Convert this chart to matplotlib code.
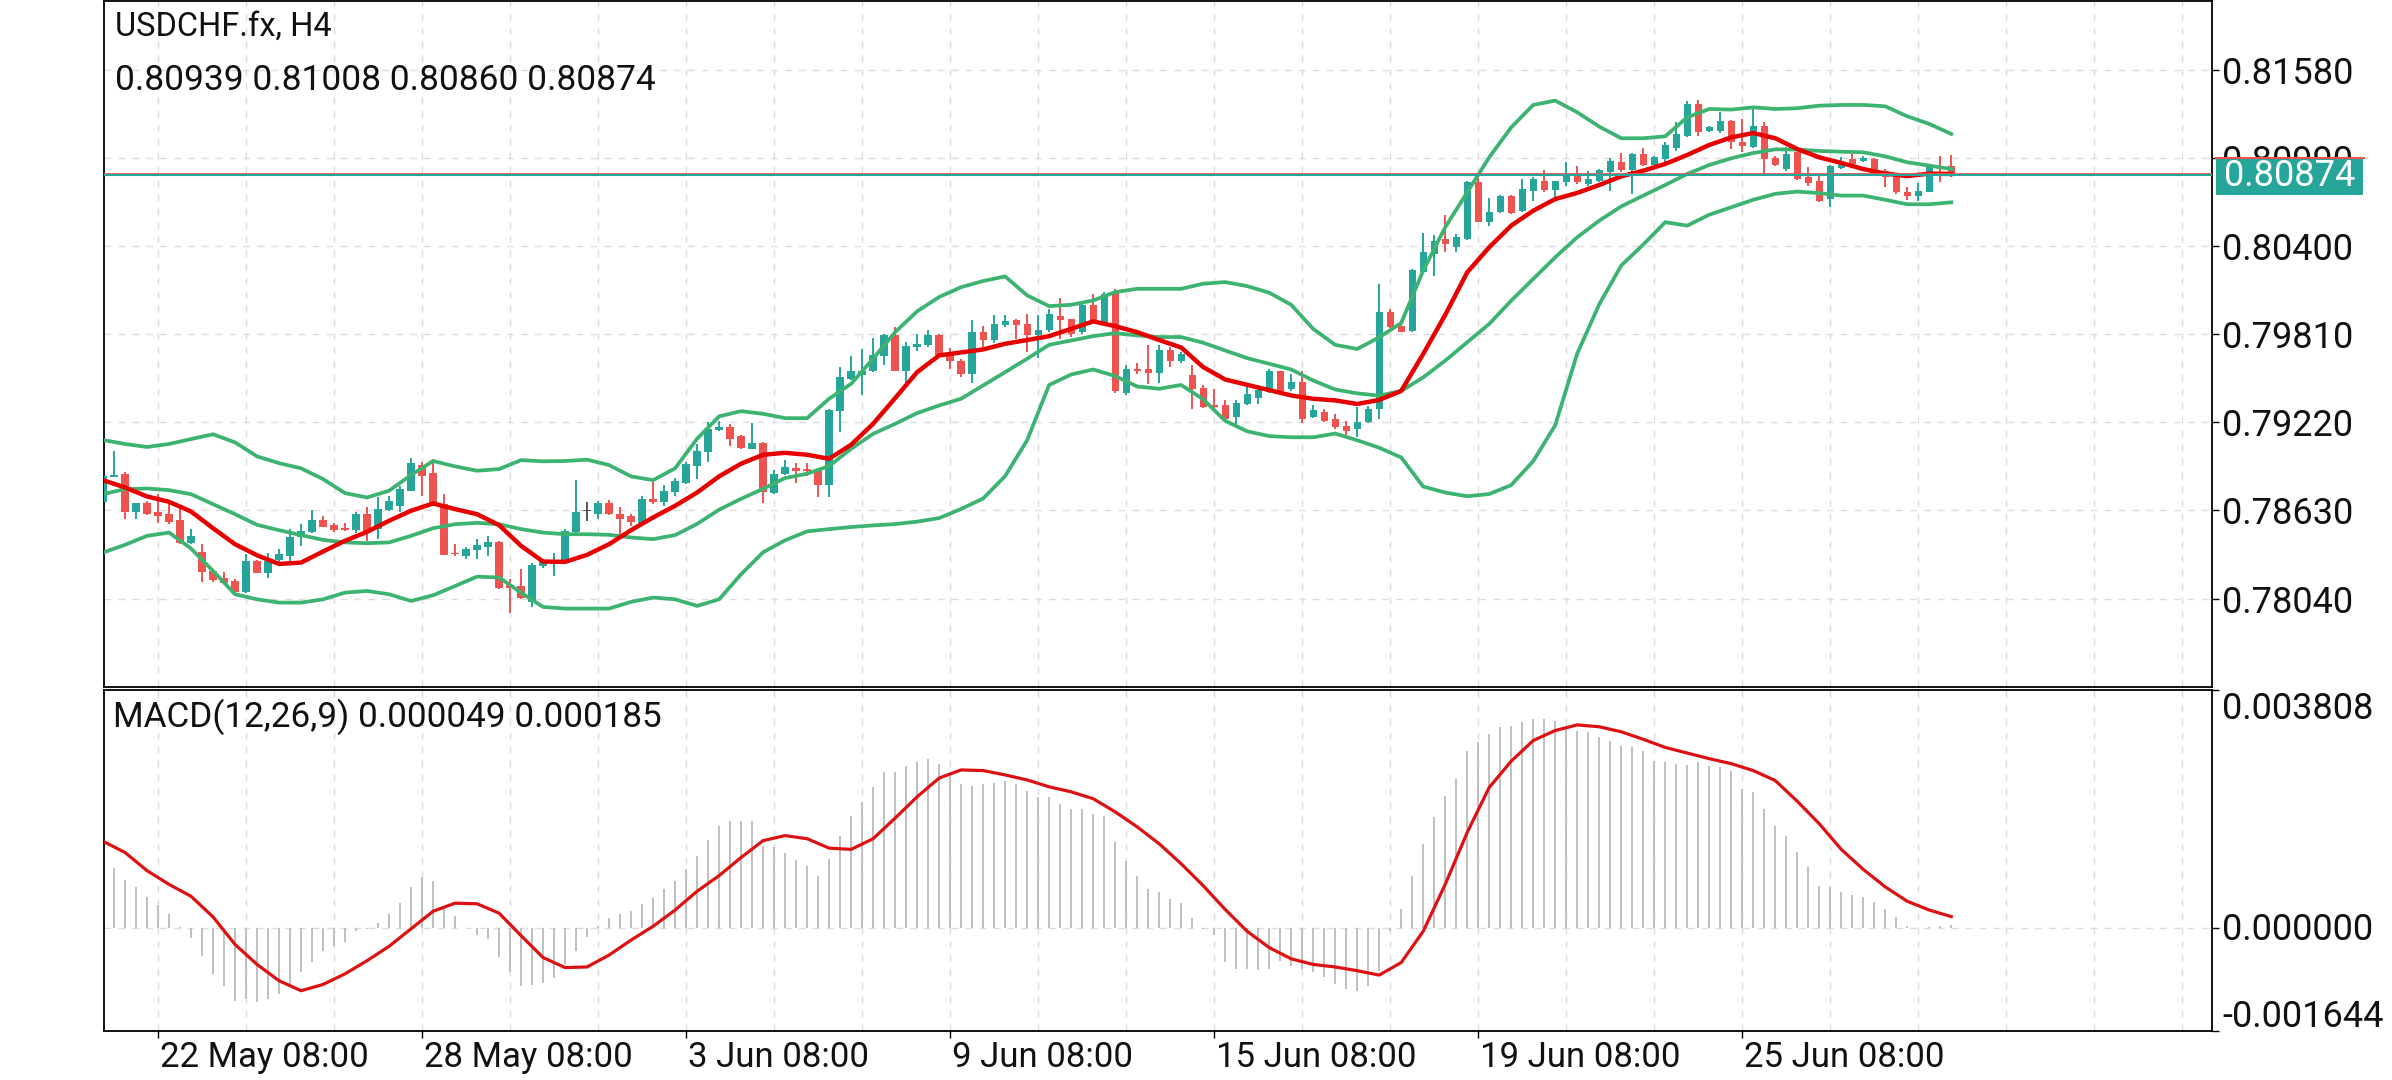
import numpy as np
import matplotlib.pyplot as plt
import matplotlib.transforms as mtransforms
from matplotlib.patches import Rectangle
from matplotlib.lines import Line2D

plt.rcParams['font.family'] = ['Roboto', 'DejaVu Sans']

# ---- H4 candles (bar index 0..168) ----
opens = [
    0.78684, 0.78856, 0.78874, 0.78617, 0.78677, 0.78621, 0.78605, 0.78567, 0.78409, 0.78353,
    0.78226, 0.78176, 0.78158, 0.78087, 0.78292, 0.78214, 0.78297, 0.78326, 0.78453, 0.78487,
    0.78565, 0.78534, 0.78511, 0.78498, 0.78605, 0.78505, 0.78634, 0.78661, 0.78762, 0.78934,
    0.78878, 0.78672, 0.78344, 0.78322, 0.78364, 0.78386, 0.78422, 0.78129, 0.78125, 0.78018,
    0.78259, 0.78270, 0.78292, 0.78487, 0.78628, 0.78605, 0.78679, 0.78605, 0.78594, 0.78549,
    0.78706, 0.78684, 0.78751, 0.78813, 0.78929, 0.79019, 0.79169, 0.79191, 0.79126, 0.79043,
    0.79081, 0.78748, 0.78876, 0.78913, 0.78909, 0.78898, 0.78802, 0.79295, 0.79512, 0.79538,
    0.79561, 0.79663, 0.79806, 0.79567, 0.79724, 0.79735, 0.79806, 0.79668, 0.79634, 0.79545,
    0.79824, 0.79768, 0.79869, 0.79907, 0.79880, 0.79802, 0.79835, 0.79931, 0.79909, 0.79824,
    0.80003, 0.79891, 0.80096, 0.79418, 0.79579, 0.79579, 0.79552, 0.79706, 0.79634, 0.79538,
    0.79449, 0.79333, 0.79333, 0.79255, 0.79340, 0.79382, 0.79422, 0.79561, 0.79440, 0.79489,
    0.79255, 0.79287, 0.79242, 0.79198, 0.79175, 0.79220, 0.79309, 0.79957, 0.79867, 0.79829,
    0.80224, 0.80347, 0.80448, 0.80392, 0.80448, 0.80827, 0.80564, 0.80626, 0.80738, 0.80637,
    0.80771, 0.80838, 0.80778, 0.80827, 0.80883, 0.80816, 0.80838, 0.80898, 0.80965, 0.80912,
    0.81017, 0.80943, 0.80983, 0.81055, 0.81140, 0.81352, 0.81173, 0.81173, 0.81240, 0.81099,
    0.81061, 0.81207, 0.80988, 0.80916, 0.81028, 0.80861, 0.80838, 0.80715, 0.80921, 0.80983,
    0.80972, 0.80983, 0.80905, 0.80876, 0.80765, 0.80733, 0.80765, 0.80930, 0.80939,
]
highs = [
    0.78870, 0.79030, 0.78889, 0.78680, 0.78695, 0.78739, 0.78672, 0.78650, 0.78505, 0.78404,
    0.78230, 0.78219, 0.78169, 0.78337, 0.78295, 0.78348, 0.78371, 0.78505, 0.78538, 0.78632,
    0.78594, 0.78549, 0.78549, 0.78617, 0.78650, 0.78717, 0.78728, 0.78795, 0.78981, 0.78952,
    0.78974, 0.78739, 0.78404, 0.78382, 0.78442, 0.78456, 0.78427, 0.78169, 0.78241, 0.78281,
    0.78304, 0.78348, 0.78505, 0.78833, 0.78684, 0.78695, 0.78701, 0.78650, 0.78605, 0.78728,
    0.78818, 0.78800, 0.78844, 0.78952, 0.79075, 0.79224, 0.79231, 0.79209, 0.79137, 0.79217,
    0.79088, 0.78898, 0.78965, 0.78947, 0.78947, 0.78913, 0.79311, 0.79590, 0.79663, 0.79713,
    0.79784, 0.79813, 0.79858, 0.79757, 0.79813, 0.79835, 0.79813, 0.79717, 0.79646, 0.79902,
    0.79864, 0.79936, 0.79936, 0.79913, 0.79947, 0.79936, 0.79976, 0.80052, 0.79913, 0.80014,
    0.80081, 0.80096, 0.80114, 0.79601, 0.79619, 0.79739, 0.79735, 0.79724, 0.79690, 0.79605,
    0.79467, 0.79440, 0.79367, 0.79367, 0.79456, 0.79467, 0.79579, 0.79567, 0.79545, 0.79561,
    0.79333, 0.79309, 0.79277, 0.79231, 0.79320, 0.79332, 0.80146, 0.79979, 0.79879, 0.80245,
    0.80488, 0.80474, 0.80608, 0.80481, 0.80838, 0.80872, 0.80720, 0.80742, 0.80742, 0.80849,
    0.80861, 0.80912, 0.80838, 0.80961, 0.80934, 0.80905, 0.80916, 0.80988, 0.81023, 0.81023,
    0.81055, 0.81001, 0.81095, 0.81229, 0.81374, 0.81381, 0.81207, 0.81296, 0.81247, 0.81251,
    0.81318, 0.81229, 0.81001, 0.81061, 0.81032, 0.80928, 0.80872, 0.80943, 0.80994, 0.81017,
    0.81001, 0.80988, 0.80916, 0.80883, 0.80794, 0.80823, 0.80943, 0.81001, 0.81008,
]
lows = [
    0.78680, 0.78851, 0.78572, 0.78576, 0.78600, 0.78549, 0.78538, 0.78405, 0.78404, 0.78154,
    0.78154, 0.78143, 0.78080, 0.78080, 0.78210, 0.78176, 0.78286, 0.78292, 0.78393, 0.78476,
    0.78516, 0.78487, 0.78494, 0.78482, 0.78427, 0.78442, 0.78628, 0.78617, 0.78757, 0.78728,
    0.78672, 0.78330, 0.78326, 0.78304, 0.78304, 0.78326, 0.78107, 0.77946, 0.78036, 0.77984,
    0.78248, 0.78192, 0.78286, 0.78482, 0.78561, 0.78576, 0.78601, 0.78471, 0.78527, 0.78527,
    0.78672, 0.78661, 0.78728, 0.78806, 0.78840, 0.78952, 0.79165, 0.79064, 0.79039, 0.79039,
    0.78681, 0.78742, 0.78869, 0.78815, 0.78864, 0.78719, 0.78719, 0.79155, 0.79501, 0.79400,
    0.79556, 0.79601, 0.79561, 0.79467, 0.79695, 0.79724, 0.79657, 0.79574, 0.79523, 0.79483,
    0.79724, 0.79753, 0.79858, 0.79780, 0.79690, 0.79650, 0.79824, 0.79780, 0.79791, 0.79813,
    0.79891, 0.79880, 0.79416, 0.79400, 0.79545, 0.79474, 0.79483, 0.79590, 0.79617, 0.79311,
    0.79315, 0.79288, 0.79233, 0.79204, 0.79333, 0.79344, 0.79416, 0.79422, 0.79427, 0.79217,
    0.79248, 0.79220, 0.79177, 0.79120, 0.79120, 0.79216, 0.79242, 0.79849, 0.79823, 0.79825,
    0.80213, 0.80202, 0.80358, 0.80363, 0.80443, 0.80559, 0.80537, 0.80622, 0.80617, 0.80631,
    0.80704, 0.80765, 0.80727, 0.80805, 0.80816, 0.80800, 0.80832, 0.80771, 0.80898, 0.80749,
    0.80934, 0.80939, 0.80965, 0.81039, 0.81128, 0.81140, 0.81166, 0.81157, 0.81050, 0.81028,
    0.81055, 0.80883, 0.80934, 0.80905, 0.80845, 0.80805, 0.80698, 0.80660, 0.80916, 0.80943,
    0.80961, 0.80883, 0.80794, 0.80749, 0.80711, 0.80704, 0.80760, 0.80827, 0.80860,
]
closes = [
    0.78862, 0.78866, 0.78617, 0.78677, 0.78605, 0.78594, 0.78554, 0.78409, 0.78460, 0.78219,
    0.78163, 0.78147, 0.78087, 0.78292, 0.78214, 0.78292, 0.78337, 0.78449, 0.78494, 0.78565,
    0.78520, 0.78500, 0.78498, 0.78605, 0.78494, 0.78643, 0.78695, 0.78773, 0.78947, 0.78862,
    0.78684, 0.78333, 0.78337, 0.78371, 0.78400, 0.78422, 0.78114, 0.78114, 0.78047, 0.78263,
    0.78292, 0.78292, 0.78494, 0.78623, 0.78628, 0.78679, 0.78605, 0.78576, 0.78554, 0.78706,
    0.78684, 0.78757, 0.78824, 0.78941, 0.79030, 0.79175, 0.79191, 0.79110, 0.79047, 0.79083,
    0.78753, 0.78876, 0.78920, 0.78891, 0.78891, 0.78802, 0.79304, 0.79523, 0.79567, 0.79567,
    0.79668, 0.79802, 0.79567, 0.79728, 0.79746, 0.79802, 0.79668, 0.79628, 0.79545, 0.79824,
    0.79768, 0.79880, 0.79898, 0.79869, 0.79802, 0.79840, 0.79947, 0.79902, 0.79813, 0.80003,
    0.79902, 0.80081, 0.79427, 0.79579, 0.79561, 0.79552, 0.79706, 0.79634, 0.79679, 0.79440,
    0.79322, 0.79322, 0.79244, 0.79351, 0.79411, 0.79434, 0.79561, 0.79427, 0.79489, 0.79244,
    0.79300, 0.79231, 0.79187, 0.79164, 0.79220, 0.79309, 0.79957, 0.79856, 0.79827, 0.80242,
    0.80358, 0.80436, 0.80414, 0.80459, 0.80827, 0.80564, 0.80631, 0.80738, 0.80622, 0.80782,
    0.80849, 0.80778, 0.80834, 0.80883, 0.80827, 0.80849, 0.80912, 0.80972, 0.80912, 0.81017,
    0.80943, 0.80994, 0.81077, 0.81151, 0.81352, 0.81162, 0.81195, 0.81240, 0.81095, 0.81073,
    0.81207, 0.80983, 0.80943, 0.81017, 0.80849, 0.80823, 0.80704, 0.80934, 0.80950, 0.80950,
    0.80988, 0.80894, 0.80861, 0.80760, 0.80738, 0.80771, 0.80934, 0.80918, 0.80874,
]

# ---- indicator lines, read every 2nd bar (0, 2, ..., 168) ----
knot_step = 2
bb_upper = [
    0.79102, 0.79075, 0.79055, 0.79075, 0.79108, 0.79140, 0.79086, 0.78992, 0.78947, 0.78912,
    0.78840, 0.78746, 0.78717, 0.78762, 0.78867, 0.78961, 0.78925, 0.78896, 0.78907, 0.78967,
    0.78959, 0.78961, 0.78970, 0.78934, 0.78858, 0.78833, 0.78912, 0.79110, 0.79260, 0.79295,
    0.79277, 0.79248, 0.79248, 0.79378, 0.79478, 0.79646, 0.79824, 0.79963, 0.80059, 0.80125,
    0.80166, 0.80197, 0.80070, 0.79998, 0.80007, 0.80036, 0.80092, 0.80114, 0.80114, 0.80114,
    0.80148, 0.80159, 0.80132, 0.80088, 0.80007, 0.79846, 0.79739, 0.79711, 0.79789, 0.79885,
    0.80236, 0.80526, 0.80760, 0.80994, 0.81195, 0.81345, 0.81374, 0.81296, 0.81200, 0.81122,
    0.81122, 0.81135, 0.81262, 0.81318, 0.81314, 0.81329, 0.81318, 0.81323, 0.81340, 0.81345,
    0.81345, 0.81336, 0.81269, 0.81218, 0.81151,
]
bb_middle = [
    0.78739, 0.78773, 0.78777, 0.78766, 0.78739, 0.78672, 0.78605, 0.78534, 0.78498, 0.78465,
    0.78433, 0.78416, 0.78411, 0.78416, 0.78460, 0.78511, 0.78538, 0.78547, 0.78538, 0.78505,
    0.78482, 0.78471, 0.78471, 0.78467, 0.78449, 0.78438, 0.78465, 0.78540, 0.78635, 0.78708,
    0.78775, 0.78847, 0.78876, 0.78927, 0.79043, 0.79143, 0.79210, 0.79282, 0.79333, 0.79378,
    0.79467, 0.79556, 0.79646, 0.79739, 0.79768, 0.79797, 0.79817, 0.79802, 0.79791, 0.79791,
    0.79753, 0.79701, 0.79650, 0.79612, 0.79574, 0.79500, 0.79440, 0.79414, 0.79399, 0.79430,
    0.79521, 0.79633, 0.79756, 0.79879, 0.80035, 0.80180, 0.80325, 0.80459, 0.80570, 0.80666,
    0.80738, 0.80809, 0.80883, 0.80943, 0.80988, 0.81023, 0.81048, 0.81046, 0.81037, 0.81032,
    0.81028, 0.81001, 0.80961, 0.80939, 0.80916,
]
bb_lower = [
    0.78348, 0.78400, 0.78460, 0.78482, 0.78375, 0.78225, 0.78069, 0.78035, 0.78013, 0.78013,
    0.78035, 0.78080, 0.78091, 0.78069, 0.78024, 0.78062, 0.78124, 0.78187, 0.78181, 0.78080,
    0.77984, 0.77973, 0.77973, 0.77973, 0.78018, 0.78047, 0.78035, 0.77991, 0.78035, 0.78203,
    0.78350, 0.78430, 0.78490, 0.78505, 0.78519, 0.78530, 0.78539, 0.78555, 0.78579, 0.78640,
    0.78710, 0.78860, 0.79100, 0.79470, 0.79540, 0.79574, 0.79530, 0.79460, 0.79445, 0.79470,
    0.79375, 0.79230, 0.79160, 0.79128, 0.79120, 0.79120, 0.79145, 0.79100, 0.79050, 0.78985,
    0.78790, 0.78750, 0.78725, 0.78740, 0.78800, 0.78960, 0.79200, 0.79680, 0.80010, 0.80270,
    0.80410, 0.80560, 0.80537, 0.80610, 0.80660, 0.80710, 0.80750, 0.80765, 0.80755, 0.80738,
    0.80738, 0.80710, 0.80680, 0.80680, 0.80693,
]
fast_ma = [
    0.78833, 0.78784, 0.78724, 0.78688, 0.78623, 0.78511, 0.78404, 0.78330, 0.78272, 0.78281,
    0.78355, 0.78427, 0.78487, 0.78561, 0.78628, 0.78677, 0.78639, 0.78605, 0.78532, 0.78393,
    0.78288, 0.78286, 0.78333, 0.78404, 0.78498, 0.78583, 0.78661, 0.78750, 0.78858, 0.78943,
    0.79003, 0.79016, 0.79003, 0.78976, 0.79070, 0.79210, 0.79382, 0.79556, 0.79668, 0.79688,
    0.79708, 0.79746, 0.79771, 0.79797, 0.79846, 0.79896, 0.79864, 0.79824, 0.79771, 0.79721,
    0.79590, 0.79507, 0.79471, 0.79436, 0.79400, 0.79378, 0.79367, 0.79343, 0.79370, 0.79430,
    0.79678, 0.79939, 0.80224, 0.80392, 0.80537, 0.80637, 0.80715, 0.80756, 0.80809, 0.80867,
    0.80905, 0.80950, 0.81010, 0.81077, 0.81128, 0.81157, 0.81122, 0.81050, 0.80994, 0.80957,
    0.80916, 0.80885, 0.80869, 0.80885, 0.80883,
]

# ---- MACD(12,26,9) ----
macd_hist = [
    0.00105, 0.00096, 0.00077, 0.00066, 0.00050, 0.00037, 0.00023, 0.00002, -0.00016, -0.00045,
    -0.00073, -0.00093, -0.00116, -0.00114, -0.00118, -0.00113, -0.00105, -0.00092, -0.00070, -0.00054,
    -0.00037, -0.00029, -0.00022, -0.00004, -0.00002, 0.00008, 0.00023, 0.00041, 0.00066, 0.00082,
    0.00075, 0.00032, 0.00019, 0.00000, -0.00011, -0.00018, -0.00046, -0.00070, -0.00092, -0.00091,
    -0.00088, -0.00080, -0.00057, -0.00037, -0.00014, 0.00004, 0.00016, 0.00023, 0.00027, 0.00039,
    0.00048, 0.00062, 0.00075, 0.00094, 0.00115, 0.00141, 0.00164, 0.00171, 0.00171, 0.00171,
    0.00132, 0.00129, 0.00120, 0.00109, 0.00100, 0.00084, 0.00111, 0.00148, 0.00180, 0.00202,
    0.00226, 0.00249, 0.00249, 0.00260, 0.00265, 0.00271, 0.00263, 0.00244, 0.00231, 0.00228,
    0.00231, 0.00232, 0.00235, 0.00231, 0.00220, 0.00210, 0.00210, 0.00199, 0.00191, 0.00191,
    0.00183, 0.00180, 0.00138, 0.00108, 0.00084, 0.00063, 0.00058, 0.00047, 0.00041, 0.00016,
    -0.00002, -0.00011, -0.00054, -0.00065, -0.00066, -0.00067, -0.00066, -0.00052, -0.00060, -0.00065,
    -0.00070, -0.00078, -0.00089, -0.00097, -0.00100, -0.00092, -0.00068, -0.00004, 0.00031, 0.00084,
    0.00135, 0.00178, 0.00211, 0.00238, 0.00283, 0.00297, 0.00311, 0.00321, 0.00324, 0.00329,
    0.00335, 0.00334, 0.00331, 0.00324, 0.00316, 0.00313, 0.00305, 0.00300, 0.00292, 0.00289,
    0.00284, 0.00268, 0.00265, 0.00263, 0.00261, 0.00265, 0.00260, 0.00257, 0.00252, 0.00223,
    0.00218, 0.00191, 0.00164, 0.00148, 0.00122, 0.00098, 0.00068, 0.00066, 0.00058, 0.00053,
    0.00050, 0.00042, 0.00031, 0.00018, 0.00004, 0.00000, 0.00002, 0.00003, 0.000049,
]
macd_signal = [
    0.00139, 0.00121, 0.00092, 0.00070, 0.00051, 0.00018, -0.00026, -0.00058, -0.00084, -0.00100,
    -0.00090, -0.00073, -0.00052, -0.00029, -0.00001, 0.00027, 0.00040, 0.00039, 0.00024, -0.00012,
    -0.00047, -0.00063, -0.00062, -0.00043, -0.00019, 0.00003, 0.00029, 0.00059, 0.00084, 0.00113,
    0.00140, 0.00148, 0.00143, 0.00128, 0.00126, 0.00143, 0.00176, 0.00210, 0.00240, 0.00253,
    0.00252, 0.00245, 0.00237, 0.00226, 0.00218, 0.00207, 0.00186, 0.00162, 0.00135, 0.00103,
    0.00068, 0.00030, -0.00005, -0.00031, -0.00049, -0.00058, -0.00062, -0.00068, -0.00075, -0.00055,
    -0.00005, 0.00070, 0.00153, 0.00225, 0.00267, 0.00300, 0.00316, 0.00325, 0.00322, 0.00314,
    0.00302, 0.00289, 0.00280, 0.00271, 0.00263, 0.00252, 0.00236, 0.00203, 0.00167, 0.00126,
    0.00094, 0.00066, 0.00043, 0.00029, 0.000185,
]

price_ticks = [0.78040, 0.78630, 0.79220, 0.79810, 0.80400, 0.80990, 0.81580]
price_range = (0.77448, 0.82041)
macd_range = (-0.001644, 0.003808)
date_ticks = [5, 29, 53, 77, 101, 125, 149]
date_labels = ['22 May 08:00', '28 May 08:00', '3 Jun 08:00', '9 Jun 08:00',
               '15 Jun 08:00', '19 Jun 08:00', '25 Jun 08:00']
grid_bars = list(range(5, 190, 8))
last_price = 0.80874

UP = '#26a69a'
DOWN = '#ef5350'
BAND = '#3cb371'
GRID = '#dddddd'
INK = '#111111'

W, H = 2392, 1080
fig = plt.figure(figsize=(W / 100, H / 100), dpi=100)
ax = fig.add_axes([104 / W, 1 - 687 / H, 2108 / W, 686 / H])
mx = fig.add_axes([104 / W, 1 - 1031 / H, 2108 / W, 341 / H])

x = np.arange(len(opens))
o, hi, lo, c = map(np.array, (opens, highs, lows, closes))
cols = np.where(c > o, UP, np.where(c < o, DOWN, '#555555'))
kx = np.arange(0, len(opens), knot_step)

for a in (ax, mx):
    a.set_xlim(0.09, 191.7)
    for gx in grid_bars:
        a.axvline(gx, color=GRID, lw=1.0, ls=(0, (5, 5)), zorder=0)
    for s in a.spines.values():
        s.set_color('black')
        s.set_linewidth(1.3)

# main price panel
for py in price_ticks:
    ax.axhline(py, color=GRID, lw=1.0, ls=(0, (5, 5)), zorder=0)
ax.vlines(x, lo, hi, colors=cols, lw=1.4, zorder=2)
ax.bar(x, np.maximum(np.abs(c - o), 0.00002), bottom=np.minimum(o, c), width=0.66,
       color=cols, linewidth=0, zorder=3)
for band in (bb_upper, bb_middle, bb_lower):
    ax.plot(kx, band, color=BAND, lw=2.7, solid_joinstyle='round', zorder=4)
ax.plot(kx, fast_ma, color='#e60000', lw=3.2, solid_joinstyle='round', zorder=5)
ax.axhline(last_price + 0.00009, color=DOWN, lw=1.3, zorder=6)
ax.axhline(last_price, color=UP, lw=1.5, zorder=6)

ax.set_ylim(*price_range)
ax.yaxis.tick_right()
ax.set_yticks(price_ticks)
ax.set_yticklabels([f'{v:.5f}' for v in price_ticks])
ax.tick_params(axis='y', length=5, width=1, pad=2.5, labelsize=26, labelcolor=INK)
ax.set_xticks([])

fig.text(115 / W, 1 - 27 / H, 'USDCHF.fx, H4', fontsize=23.5, va='center', color=INK)
fig.text(115 / W, 1 - 80 / H, '0.80939 0.81008 0.80860 0.80874', fontsize=25.5,
         va='center', color=INK)

# current price tag
fig.add_artist(Rectangle((2216 / W, 1 - 195 / H), 147 / W, 37 / H, transform=fig.transFigure,
                         facecolor=UP, edgecolor='none', zorder=5))
fig.add_artist(Line2D([2216 / W, 2364 / W], [1 - 157.5 / H] * 2, transform=fig.transFigure,
                      color=DOWN, lw=1.5, zorder=6))
fig.text(2224 / W, 1 - 176 / H, f'{last_price:.5f}', fontsize=26, color='white',
         va='center', zorder=7)

# MACD panel
mx.axhline(0, color=GRID, lw=1.0, ls=(0, (5, 5)), zorder=0)
mx.bar(x, macd_hist, width=0.2, color='#c0c0c0', linewidth=0, zorder=2)
mx.plot(kx, macd_signal, color='#dd1111', lw=2.3, solid_joinstyle='round', zorder=3)
mx.set_ylim(*macd_range)
mx.yaxis.tick_right()
mx.set_yticks([macd_range[0], 0, macd_range[1]])
mx.set_yticklabels([])
mx.tick_params(axis='y', length=5, width=1)
mx.set_xticks(date_ticks)
mx.set_xticklabels([])
mx.tick_params(axis='x', length=5, width=1)

ytr = mtransforms.blended_transform_factory(mx.transAxes, mx.transData)
for val, dy in ((macd_range[1], -19), (0.0, -2), (macd_range[0], 14)):
    tr = mtransforms.offset_copy(ytr, fig=fig, x=10, y=dy, units='dots')
    mx.text(1.0, val, f'{val:.6f}', transform=tr, fontsize=26, va='center', ha='left',
            color=INK, clip_on=False)

xtr = mtransforms.blended_transform_factory(mx.transData, mx.transAxes)
for bx, lab in zip(date_ticks, date_labels):
    tr = mtransforms.offset_copy(xtr, fig=fig, x=2, y=0, units='dots')
    mx.text(bx, -0.078, lab, transform=tr, fontsize=25, ha='left', va='center',
            color=INK, clip_on=False)

fig.text(113 / W, 1 - 717 / H, 'MACD(12,26,9) 0.000049 0.000185', fontsize=25.3,
         va='center', color=INK)

fig.savefig('out.png', dpi=100)
